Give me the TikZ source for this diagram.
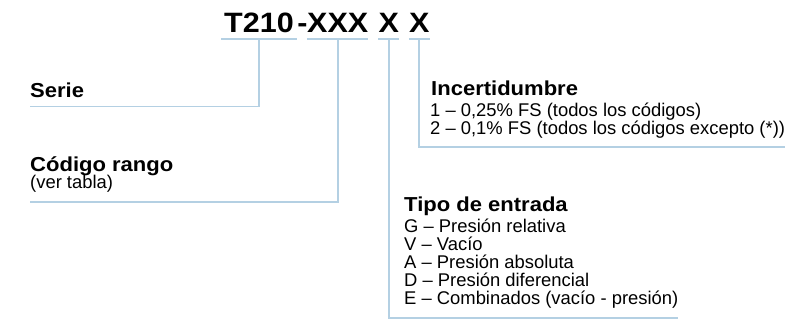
\documentclass[tikz,border=0pt]{standalone}
\usepackage{fontspec}
\setmainfont[FakeStretch=1.09]{Liberation Sans}
\newfontfamily\listfont{Liberation Sans}
\usepackage{tikz}
\usetikzlibrary{positioning,calc}
\definecolor{rulecol}{RGB}{180,208,227}

\begin{document}
\begin{tikzpicture}[x=1pt,y=-1pt,
    rule/.style={draw=rulecol, line width=1.8pt},
    codepart/.style={anchor=base, inner xsep=0pt, inner ysep=6.2pt, text depth=0pt,
      font=\fontsize{28}{30}\selectfont\bfseries},
    headtxt/.style={anchor=base west, inner sep=0pt, font=\fontsize{20.2}{22}\selectfont\bfseries},
    bodytxt/.style={anchor=base west, inner xsep=0pt, inner ysep=0pt, text depth=0pt,
      font=\listfont\fontsize{18.4}{19}\selectfont}]
        \useasboundingbox (0,0) rectangle (802,323);
        % code T210-XXX X X
        \node[codepart, minimum width=75pt] (tser) at (259,32.3) {T210};
        \node[codepart] (tdash) at (302.5,32.3) {-};
        \node[codepart, minimum width=59pt] (trng) at (337.7,32.3) {XXX};
        \node[codepart, minimum width=19pt] (tent) at (388.7,32.3) {X};
        \node[codepart, minimum width=19pt] (tinc) at (419.3,32.3) {X};
        % left labels
        \node[headtxt] (serie) at (30,97.5) {Serie};
        \node[headtxt] (codigo) at (30,171.5) {Código rango};
        \node[bodytxt] (vertab) at (30,189) {(ver tabla)};
        \coordinate (serend) at (30,106.5);
        \coordinate (codend) at (30,201.7);
        % Incertidumbre
        \node[headtxt] (inchead) at (431,95.5) {Incertidumbre};
        \node[bodytxt] (incl1) at (430,116.5) {1 – 0,25\% FS (todos los códigos)};
        \node[bodytxt, inner ysep=12.5pt] (incl2) at (430,134.5) {2 – 0,1\% FS (todos los códigos excepto (*))};
        % Tipo de entrada
        \node[headtxt] (tiphead) at (404,211) {Tipo de entrada};
        \node[bodytxt] (tipg) at (404,232) {G – Presión relativa};
        \node[bodytxt] (tipv) at (404,250) {V – Vacío};
        \node[bodytxt] (tipa) at (404,268) {A – Presión absoluta};
        \node[bodytxt] (tipd) at (404,286) {D – Presión diferencial};
        \node[bodytxt, inner ysep=13pt] (tipe) at (404,304.5) {E – Combinados (vacío - presión)};
        % underlines and leaders
        \foreach \p in {tser,trng,tent,tinc}
            \draw[rule] (\p.south west) -- (\p.south east);
        \draw[rule] (tser.south) |- (serend);
        \draw[rule] (trng.south) |- (codend);
        \draw[rule] (tent.south) |- (tipe.south east);
        \draw[rule] (tinc.south) |- (incl2.south east);
    \end{tikzpicture}
\end{document}
